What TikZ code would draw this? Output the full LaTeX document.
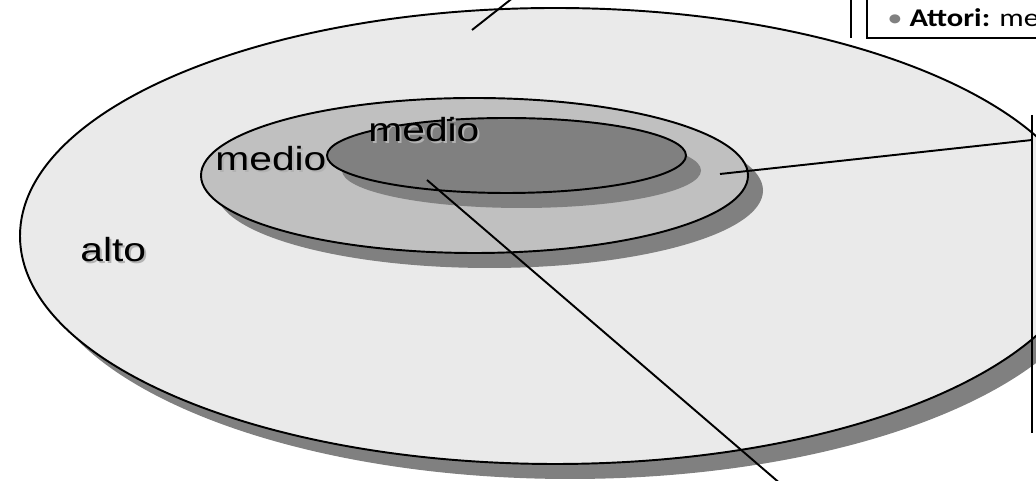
\documentclass[tikz,border=0pt]{standalone}
\usepackage{fontspec}
\setmainfont{Liberation Sans}
\newfontfamily\calibri{Carlito}
\usetikzlibrary{shapes.geometric,shadows}
\definecolor{LevelHigh}{HTML}{EAEAEA}
\definecolor{LevelMid}{HTML}{C0C0C0}
\definecolor{LevelLow}{HTML}{808080}
\definecolor{LevelShade}{HTML}{808080}
\tikzset{
  level/.style={ellipse,draw=black,line width=1.1pt,inner sep=0pt,
    drop shadow={shadow xshift=0.30cm,shadow yshift=-0.30cm,fill=LevelShade,opacity=1}},
  lbl/.style={anchor=base west,inner sep=0pt,xscale=1.22,font=\fontsize{19}{22}\selectfont},
  lblshade/.style={lbl,text=black!30},
  leader/.style={line width=1.1pt},
}
\begin{document}
\begin{tikzpicture}[x=1cm,y=1cm]
\path[use as bounding box] (0,0) rectangle (20.72,9.62);
\clip (0,0) rectangle (20.72,9.62);
% nested levels
\node[level,fill=LevelHigh,minimum width=21.40cm,minimum height=9.12cm] (high) at (11.10,4.90) {};
\node[level,fill=LevelMid,minimum width=10.94cm,minimum height=3.10cm] (mid) at (9.49,6.11) {};
\node[level,fill=LevelLow,minimum width=7.18cm,minimum height=1.50cm] (low) at (10.13,6.51) {};
% labels
\node[lblshade] (altoS) at (1.64,4.34) {alto};
\node[lbl] (alto) at (1.60,4.38) {alto};
\node[lblshade] (midLblS) at (4.34,6.16) {medio};
\node[lbl] (midLbl) at (4.30,6.20) {medio};
\node[lblshade] (lowLblS) at (7.40,6.74) {medio};
\node[lbl] (lowLbl) at (7.36,6.78) {medio};
% leader lines
\coordinate (highTip) at (9.44,9.02);
\coordinate (highOut) at (10.33,9.72);
\draw[leader] (highTip) -- (highOut);
\coordinate (midTip) at (14.40,6.14);
\coordinate (midOut) at (20.64,6.82);
\draw[leader] (midTip) -- (midOut);
\coordinate (barTop) at (20.64,7.32);
\coordinate (barBot) at (20.64,0.96);
\draw[leader] (barTop) -- (barBot);
\coordinate (lowTip) at (8.54,6.02);
\coordinate (lowOut) at (15.79,-0.21);
\draw[leader] (lowTip) -- (lowOut);
% box top right
\coordinate (boxA) at (17.02,9.72);
\coordinate (boxB) at (17.02,8.86);
\coordinate (boxC) at (17.34,9.72);
\coordinate (boxD) at (17.34,8.86);
\coordinate (boxE) at (20.80,8.86);
\draw[leader] (boxA) -- (boxB);
\draw[leader] (boxC) -- (boxD) -- (boxE);
\node[anchor=base west,inner sep=0pt,xscale=1.2,font=\calibri\fontsize{14.5}{17}\selectfont] (actors) at (17.74,9.08) {\textcolor{gray}{\textbullet}\ \textbf{Attori:} me};
\end{tikzpicture}
\end{document}
